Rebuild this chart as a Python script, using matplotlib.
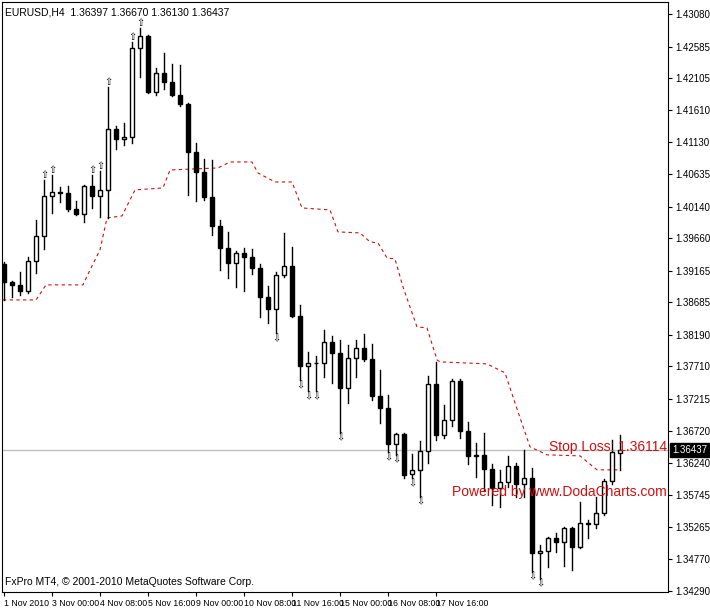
import matplotlib
matplotlib.use("Agg")
import matplotlib.pyplot as plt
from matplotlib.patches import Rectangle

plt.rcParams['font.family'] = ['Liberation Sans', 'DejaVu Sans']

# EURUSD H4 candles
opens = [1.39272, 1.38998, 1.38953, 1.38861, 1.39318, 1.39699, 1.40308, 1.40369, 1.40354, 1.40110,
         1.40034, 1.40460, 1.40308, 1.40400, 1.41329, 1.41176, 1.41207, 1.42562, 1.42745, 1.41892,
         1.42181, 1.42044, 1.41846, 1.41709, 1.40978, 1.40674, 1.40293, 1.39851, 1.39516, 1.39288,
         1.39440, 1.39379, 1.39212, 1.38770, 1.38587, 1.39105, 1.39242, 1.38481, 1.37719, 1.37765,
         1.37765, 1.38085, 1.37917, 1.37384, 1.37841, 1.37993, 1.37826, 1.37262, 1.37079, 1.36531,
         1.36683, 1.36074, 1.36135, 1.36424, 1.37445, 1.36668, 1.36897, 1.37491, 1.36729, 1.36348,
         1.36364, 1.36150, 1.35861, 1.35952, 1.36196, 1.35922, 1.36013, 1.34871, 1.34901, 1.35099,
         1.35039, 1.35252, 1.34962, 1.35328, 1.35313, 1.35480, 1.35968, 1.36397]
highs = [1.39303, 1.39014, 1.39151, 1.39379, 1.39943, 1.40552, 1.40628, 1.40445, 1.40460, 1.40232,
         1.40476, 1.40628, 1.40689, 1.41968, 1.41374, 1.41420, 1.42654, 1.42867, 1.42760, 1.42258,
         1.42486, 1.42318, 1.42303, 1.41725, 1.41115, 1.40872, 1.40856, 1.39943, 1.39760, 1.39471,
         1.39516, 1.39501, 1.39272, 1.38937, 1.39151, 1.39745, 1.39531, 1.38648, 1.37932, 1.37871,
         1.38267, 1.38176, 1.38115, 1.38039, 1.38115, 1.38206, 1.38054, 1.37658, 1.37277, 1.36699,
         1.36699, 1.36379, 1.36577, 1.37567, 1.37780, 1.37125, 1.37521, 1.37521, 1.36866, 1.36546,
         1.36699, 1.36226, 1.36135, 1.36348, 1.36242, 1.36440, 1.36166, 1.34993, 1.35115, 1.35176,
         1.35267, 1.35267, 1.35648, 1.35374, 1.35724, 1.35998, 1.36592, 1.36670]
lows = [1.38724, 1.38770, 1.38800, 1.38831, 1.39135, 1.39501, 1.40049, 1.40217, 1.40080, 1.40019,
        1.39912, 1.40125, 1.39988, 1.39973, 1.41024, 1.41085, 1.41115, 1.42121, 1.41877, 1.41846,
        1.41938, 1.41831, 1.41679, 1.40323, 1.40232, 1.40247, 1.39714, 1.39181, 1.39059, 1.38922,
        1.38861, 1.39120, 1.38465, 1.38374, 1.38222, 1.39075, 1.38465, 1.37506, 1.37338, 1.37338,
        1.37552, 1.37460, 1.36699, 1.37156, 1.37552, 1.37795, 1.37201, 1.36851, 1.36409, 1.36364,
        1.36013, 1.36013, 1.35724, 1.36242, 1.36592, 1.36622, 1.36805, 1.36622, 1.36226, 1.36029,
        1.35815, 1.35602, 1.35572, 1.35876, 1.35724, 1.35724, 1.34582, 1.34475, 1.34658, 1.34886,
        1.34673, 1.34612, 1.34947, 1.35099, 1.35252, 1.35450, 1.35922, 1.36130]
closes = [1.38998, 1.38953, 1.38861, 1.39318, 1.39699, 1.40308, 1.40369, 1.40354, 1.40110, 1.40034,
          1.40460, 1.40308, 1.40400, 1.41329, 1.41176, 1.41207, 1.42562, 1.42745, 1.41892, 1.42181,
          1.42044, 1.41846, 1.41709, 1.40978, 1.40674, 1.40293, 1.39851, 1.39516, 1.39288, 1.39440,
          1.39379, 1.39212, 1.38770, 1.38587, 1.39105, 1.39242, 1.38481, 1.37719, 1.37765, 1.37765,
          1.38085, 1.37917, 1.37384, 1.37841, 1.37993, 1.37826, 1.37262, 1.37079, 1.36531, 1.36683,
          1.36059, 1.36135, 1.36424, 1.37445, 1.36668, 1.36897, 1.37491, 1.36729, 1.36348, 1.36364,
          1.36150, 1.35861, 1.35952, 1.36196, 1.35922, 1.36013, 1.34871, 1.34901, 1.35099, 1.35039,
          1.35252, 1.34962, 1.35328, 1.35313, 1.35480, 1.35968, 1.36409, 1.36437]

# fractal arrows
up_fractals = [5, 6, 11, 12, 13, 16, 17]
down_fractals = [34, 37, 38, 39, 42, 48, 49, 51, 52, 66, 67]

# trailing stop line (bar index, price)
stop_x = [-0.125, 4.0, 5.25, 9.875, 10.75, 12.0, 12.875, 14.75, 16.375, 19.875, 20.75, 26.75,
          28.25, 31.0, 31.75, 33.875, 36.0, 37.25, 40.75, 41.75, 44.5, 45.75, 46.75, 47.875,
          48.875, 49.875, 51.625, 52.875, 54.125, 54.5, 60.375, 62.625, 64.25, 65.75, 67.875,
          72.0, 74.125, 76.75]
stop_y = [1.38724, 1.38724, 1.38953, 1.38953, 1.39181, 1.39486, 1.39973, 1.40004, 1.40400,
          1.40430, 1.40704, 1.40735, 1.40826, 1.40826, 1.40658, 1.40521, 1.40521, 1.40125,
          1.40095, 1.39760, 1.39745, 1.39608, 1.39592, 1.39364, 1.39349, 1.38922, 1.38313,
          1.38298, 1.37811, 1.37780, 1.37750, 1.37613, 1.37019, 1.36486, 1.36364, 1.36348,
          1.36135, 1.36135]

price_ticks = [1.43080, 1.42585, 1.42105, 1.41610, 1.41130, 1.40635, 1.40140, 1.39660, 1.39165,
               1.38685, 1.38190, 1.37710, 1.37215, 1.36720, 1.36240, 1.35745, 1.35265, 1.34770,
               1.34290]
date_pos = [0, 6, 12, 18, 24, 30, 36, 42, 48, 54]
date_labels = ["1 Nov 2010", "3 Nov 00:00", "4 Nov 08:00", "5 Nov 16:00", "9 Nov 00:00",
               "10 Nov 08:00", "11 Nov 16:00", "15 Nov 00:00", "16 Nov 08:00", "17 Nov 16:00"]
last_price = 1.36437

fig = plt.figure(figsize=(7.1, 6.1), dpi=100)
ax = fig.add_axes([2 / 710, 18 / 610, 666 / 710, 590 / 610])

for i in range(len(closes)):
    o, h, l, c = opens[i], highs[i], lows[i], closes[i]
    ax.plot([i, i], [l, h], color='black', lw=1, zorder=2)
    bottom = min(o, c)
    height = max(abs(c - o), 0.00003)
    face = 'white' if c >= o else 'black'
    ax.add_patch(Rectangle((i - 0.3, bottom), 0.6, height, facecolor=face,
                           edgecolor='black', lw=1, zorder=3))

for i in up_fractals:
    ax.text(i, highs[i], '⇧', ha='center', va='bottom', fontsize=7, family='DejaVu Sans')
for i in down_fractals:
    ax.text(i, lows[i], '⇩', ha='center', va='top', fontsize=7, family='DejaVu Sans')

ax.plot(stop_x, stop_y, color='#d01010', lw=0.8, ls=(0, (3, 3)), zorder=1)
ax.axhline(last_price, color='#c0c0c0', lw=1, zorder=0)

ax.set_xlim(-0.25, 83)
ax.set_ylim(1.34274, 1.43263)
ax.yaxis.tick_right()
ax.set_yticks(price_ticks)
ax.set_yticklabels([f"{p:.5f}" for p in price_ticks], fontsize=7)
ax.set_xticks(date_pos)
ax.set_xticklabels(date_labels, fontsize=6.3, ha='left')
ax.tick_params(length=3, pad=2)

ax.text(1.006, last_price, f"{last_price:.5f}", transform=ax.get_yaxis_transform(),
        fontsize=7, color='white', va='center', ha='left',
        bbox=dict(facecolor='black', edgecolor='black', pad=1.2))

ax.text(0.005, 0.99, "EURUSD,H4  1.36397 1.36670 1.36130 1.36437", transform=ax.transAxes,
        fontsize=7.5, va='top', ha='left')
ax.text(0.005, 0.008, "FxPro MT4, © 2001-2010 MetaQuotes Software Corp.", transform=ax.transAxes,
        fontsize=7.5, va='bottom', ha='left')
ax.text(0.998, 1.3648, "Stop Loss: 1.36114", transform=ax.get_yaxis_transform(),
        fontsize=10, color='#d01010', va='center', ha='right')
ax.text(0.998, 1.3580, "Powered by www.DodaCharts.com", transform=ax.get_yaxis_transform(),
        fontsize=10, color='#d01010', va='center', ha='right')

fig.savefig('out.png', dpi=100)
